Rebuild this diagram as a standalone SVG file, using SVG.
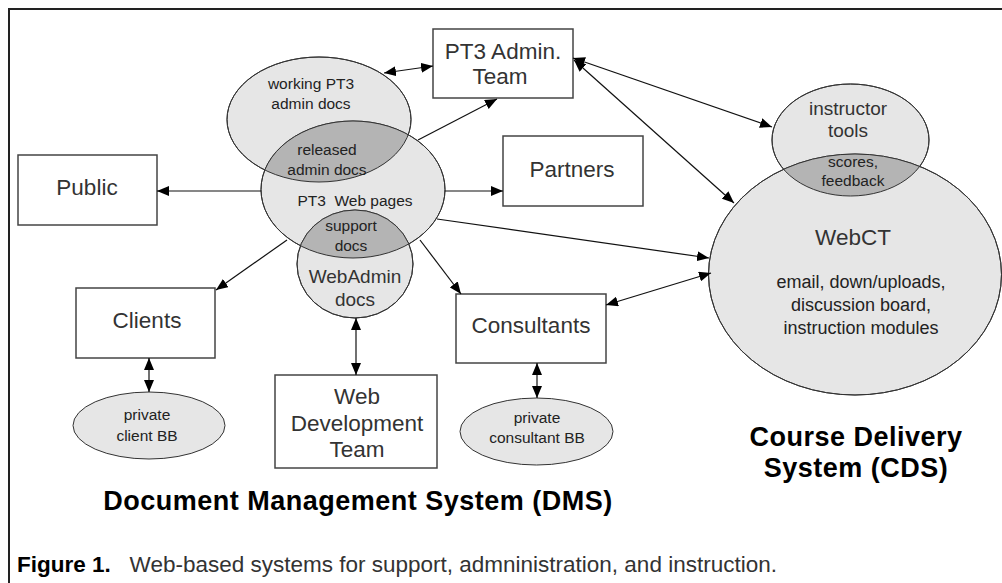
<svg xmlns="http://www.w3.org/2000/svg" width="1002" height="583" viewBox="0 0 1002 583">
  <style>
    text { font-family: "Liberation Sans", Arial, sans-serif; text-anchor: middle; fill: #222; }
    .box { fill: #fff; stroke: #444; stroke-width: 1.5; }
    .oval { fill: #e6e6e6; stroke: #333; stroke-width: 1; }
    .rim { fill: none; stroke: #333; stroke-width: 1; }
    .shared { fill: #b4b4b4; stroke: none; }
    .lbl-box { font-size: 22.5px; fill: #333; }
    .lbl-oval { font-size: 15.5px; }
    .lbl-big { font-size: 19px; fill: #333; }
    .title { font-size: 27px; font-weight: bold; fill: #000; }
    .conn { fill: none; stroke: #111; stroke-width: 1.2; }
    .one { marker-end: url(#head); }
    .two { marker-start: url(#head); marker-end: url(#head); }
  </style>
  <defs>
    <marker id="head" markerUnits="userSpaceOnUse" markerWidth="12" markerHeight="10" refX="12" refY="5" orient="auto-start-reverse">
      <path d="M0,0 L12,5 L0,10 z" fill="#000"/>
    </marker>
    <clipPath id="clip-pages"><ellipse cx="353" cy="189.5" rx="92" ry="68.5"/></clipPath>
    <clipPath id="clip-webct"><ellipse cx="855" cy="274.5" rx="146.5" ry="120.5"/></clipPath>
  </defs>

  <rect width="1002" height="583" fill="#fff"/>
  <!-- frame: left and top rules -->
  <path d="M9,583 V9 H1002" fill="none" stroke="#222" stroke-width="2"/>

  <!-- document areas (DMS) -->
  <g id="working-docs">
    <ellipse class="oval" cx="319" cy="119.5" rx="92" ry="62.5"/>
  </g>
  <g id="web-pages">
    <ellipse class="oval" cx="353" cy="189.5" rx="92" ry="68.5"/>
  </g>
  <g id="webadmin-docs">
    <ellipse class="oval" cx="355" cy="264" rx="58" ry="54"/>
  </g>
  <g id="released-admin-docs">
    <ellipse class="shared" cx="319" cy="119.5" rx="92" ry="62.5" clip-path="url(#clip-pages)"/>
  </g>
  <g id="support-docs">
    <ellipse class="shared" cx="355" cy="264" rx="58" ry="54" clip-path="url(#clip-pages)"/>
  </g>
  <!-- outlines redrawn over the shaded overlaps -->
  <g id="dms-outlines">
    <ellipse class="rim" cx="319" cy="119.5" rx="92" ry="62.5"/>
    <ellipse class="rim" cx="353" cy="189.5" rx="92" ry="68.5"/>
    <ellipse class="rim" cx="355" cy="264" rx="58" ry="54"/>
  </g>
  <g id="dms-labels">
    <text class="lbl-oval" x="311" y="89">working PT3</text>
    <text class="lbl-oval" x="311" y="109">admin docs</text>
    <text class="lbl-oval" x="327" y="155">released</text>
    <text class="lbl-oval" x="327" y="175">admin docs</text>
    <text class="lbl-oval" x="355" y="206" xml:space="preserve">PT3  Web pages</text>
    <text class="lbl-oval" x="351" y="231">support</text>
    <text class="lbl-oval" x="351" y="251">docs</text>
    <text class="lbl-big" x="355" y="283">WebAdmin</text>
    <text class="lbl-big" x="355" y="306">docs</text>
  </g>

  <!-- course delivery areas (CDS) -->
  <g id="instructor-tools">
    <ellipse class="oval" cx="850.5" cy="140" rx="78.5" ry="56"/>
  </g>
  <g id="webct">
    <ellipse class="oval" cx="855" cy="274.5" rx="146.5" ry="120.5"/>
  </g>
  <g id="scores-feedback">
    <ellipse class="shared" cx="850.5" cy="140" rx="78.5" ry="56" clip-path="url(#clip-webct)"/>
    <ellipse class="rim" cx="850.5" cy="140" rx="78.5" ry="56"/>
    <ellipse class="rim" cx="855" cy="274.5" rx="146.5" ry="120.5"/>
  </g>
  <g id="cds-labels">
    <text class="lbl-big" x="848" y="115">instructor</text>
    <text class="lbl-big" x="848" y="137">tools</text>
    <text class="lbl-oval" x="853" y="167">scores,</text>
    <text class="lbl-oval" x="853" y="186">feedback</text>
    <text class="lbl-box" x="853" y="245">WebCT</text>
    <text x="861" y="288" font-size="18">email, down/uploads,</text>
    <text x="861" y="311" font-size="18">discussion board,</text>
    <text x="861" y="334" font-size="18">instruction modules</text>
  </g>

  <!-- people -->
  <g id="public">
    <rect class="box" x="18" y="155" width="139" height="70"/>
    <text class="lbl-box" x="87" y="195">Public</text>
  </g>
  <g id="admin-team">
    <rect class="box" x="433" y="29" width="140" height="69"/>
    <text class="lbl-box" x="503" y="59">PT3 Admin.</text>
    <text class="lbl-box" x="500" y="84">Team</text>
  </g>
  <g id="partners">
    <rect class="box" x="503" y="136" width="140" height="70"/>
    <text class="lbl-box" x="572" y="177">Partners</text>
  </g>
  <g id="clients">
    <rect class="box" x="76" y="288" width="139" height="70"/>
    <text class="lbl-box" x="147" y="328">Clients</text>
  </g>
  <g id="web-dev-team">
    <rect class="box" x="275" y="375" width="162" height="93"/>
    <text class="lbl-box" x="357" y="404">Web</text>
    <text class="lbl-box" x="357" y="431">Development</text>
    <text class="lbl-box" x="357" y="457">Team</text>
  </g>
  <g id="consultants">
    <rect class="box" x="456" y="294" width="150" height="69"/>
    <text class="lbl-box" x="531" y="333">Consultants</text>
  </g>
  <g id="client-bb">
    <ellipse class="oval" cx="149" cy="425.5" rx="76" ry="33.5"/>
    <text class="lbl-oval" x="147" y="420">private</text>
    <text class="lbl-oval" x="147" y="441">client BB</text>
  </g>
  <g id="consultant-bb">
    <ellipse class="oval" cx="536.5" cy="431.5" rx="76.5" ry="33.5"/>
    <text class="lbl-oval" x="537" y="423">private</text>
    <text class="lbl-oval" x="537" y="443">consultant BB</text>
  </g>

  <!-- connectors -->
  <g id="connectors">
    <path class="conn two" d="M384,73 L433,66"/>
    <path class="conn one" d="M418,140 L497,99"/>
    <path class="conn one" d="M261,191 L157,191"/>
    <path class="conn one" d="M445,191 L503,191"/>
    <path class="conn one" d="M437,219 L709,258"/>
    <path class="conn two" d="M711,273 L606,305"/>
    <path class="conn two" d="M573,58 L772,127"/>
    <path class="conn two" d="M574,60 L734,203"/>
    <path class="conn one" d="M287,240 L216,290"/>
    <path class="conn one" d="M420,240 L461,294"/>
    <path class="conn two" d="M356,318 L356,375"/>
    <path class="conn two" d="M149,358 L149,392"/>
    <path class="conn two" d="M537,363 L537,398"/>
  </g>

  <!-- system titles and caption -->
  <g id="titles">
    <text class="title" x="358" y="510" letter-spacing="0.5">Document Management System (DMS)</text>
    <text class="title" x="856" y="446" letter-spacing="0.5">Course Delivery</text>
    <text class="title" x="856" y="477" letter-spacing="0.5">System (CDS)</text>
    <text x="17" y="572" font-size="22.5" style="text-anchor:start" xml:space="preserve"><tspan font-weight="bold" fill="#000">Figure 1.</tspan>   <tspan fill="#333">Web-based systems for support, admninistration, and instruction.</tspan></text>
  </g>
</svg>
